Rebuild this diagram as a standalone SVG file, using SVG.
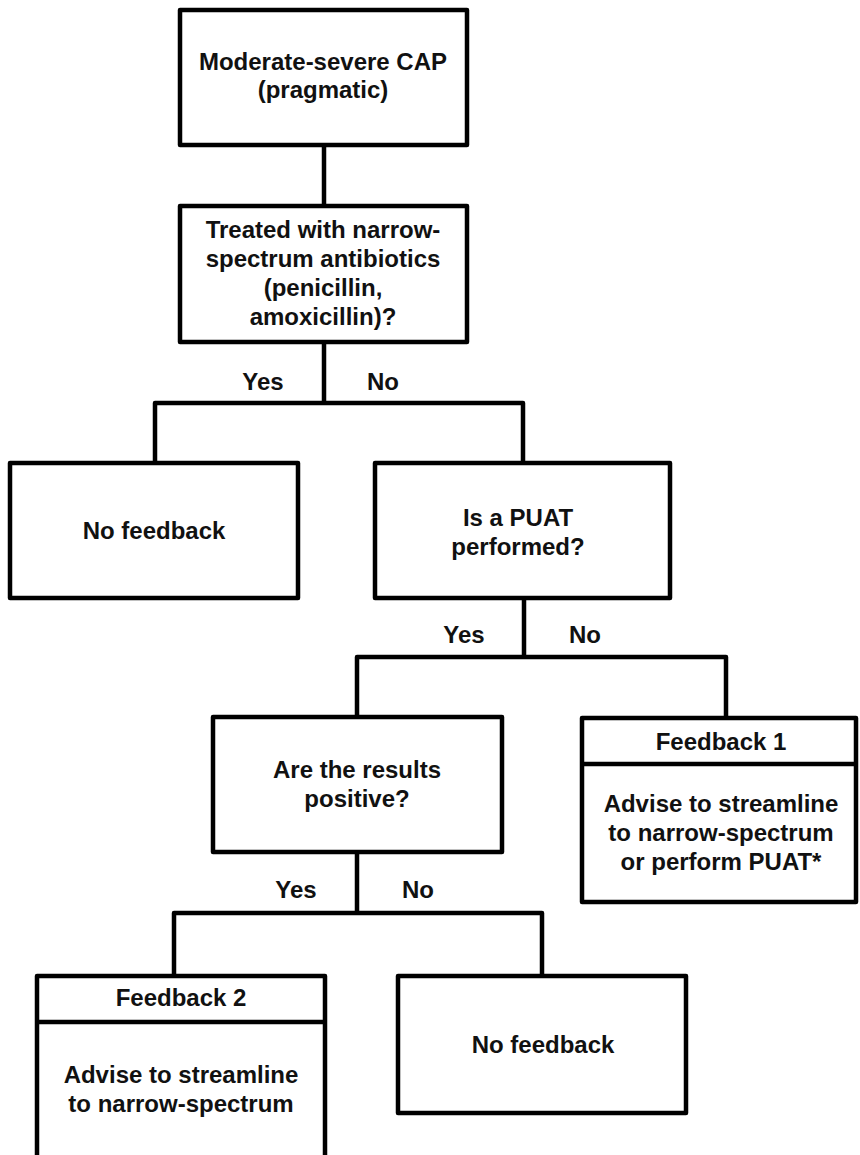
<svg xmlns="http://www.w3.org/2000/svg" width="860" height="1155" viewBox="0 0 860 1155">
<style>
.box{fill:#fff;stroke:#000;stroke-width:4.5;stroke-linejoin:round}
.ln{fill:none;stroke:#000;stroke-width:4.5;stroke-linejoin:round}
text{font-family:"Liberation Sans",Arial,sans-serif;font-weight:bold;font-size:24px;fill:#111;text-anchor:middle}
</style>
<rect width="860" height="1155" fill="#fff"/>
<g id="connectors">
<path class="ln" d="M324,145 V206"/>
<path class="ln" d="M324,342 V403 M155,463 V403 H523 V463"/>
<path class="ln" d="M524,598 V657 M357,717 V657 H726 V718"/>
<path class="ln" d="M357,852 V913 M174,976 V913 H542 V976"/>
<text x="263" y="390">Yes</text>
<text x="383" y="390">No</text>
<text x="464" y="643">Yes</text>
<text x="585" y="643">No</text>
<text x="296" y="898">Yes</text>
<text x="418" y="898">No</text>
</g>
<g id="n1">
<rect class="box" x="180" y="10" width="287" height="135"/>
<text x="323" y="70">Moderate-severe CAP</text>
<text x="323" y="98">(pragmatic)</text>
</g>
<g id="n2">
<rect class="box" x="180" y="206" width="287" height="136"/>
<text x="323" y="238">Treated with narrow-</text>
<text x="323" y="267">spectrum antibiotics</text>
<text x="323" y="296">(penicillin,</text>
<text x="323" y="325">amoxicillin)?</text>
</g>
<g id="n3">
<rect class="box" x="10" y="463" width="288" height="135"/>
<text x="154" y="539">No feedback</text>
</g>
<g id="n4">
<rect class="box" x="375" y="463" width="295" height="135"/>
<text x="518" y="526">Is a PUAT</text>
<text x="518" y="555">performed?</text>
</g>
<g id="n5">
<rect class="box" x="213" y="717" width="289" height="135"/>
<text x="357" y="778">Are the results</text>
<text x="357" y="807">positive?</text>
</g>
<g id="n6">
<rect class="box" x="582" y="718" width="274" height="184"/>
<path class="ln" d="M582,764 H856"/>
<text x="721" y="750">Feedback 1</text>
<text x="721" y="812">Advise to streamline</text>
<text x="721" y="841">to narrow-spectrum</text>
<text x="721" y="870">or perform PUAT*</text>
</g>
<g id="n7">
<rect class="box" x="37" y="976" width="288" height="200"/>
<path class="ln" d="M37,1022 H325"/>
<text x="181" y="1006">Feedback 2</text>
<text x="181" y="1083">Advise to streamline</text>
<text x="181" y="1112">to narrow-spectrum</text>
</g>
<g id="n8">
<rect class="box" x="398" y="976" width="288" height="137"/>
<text x="543" y="1053">No feedback</text>
</g>
</svg>
